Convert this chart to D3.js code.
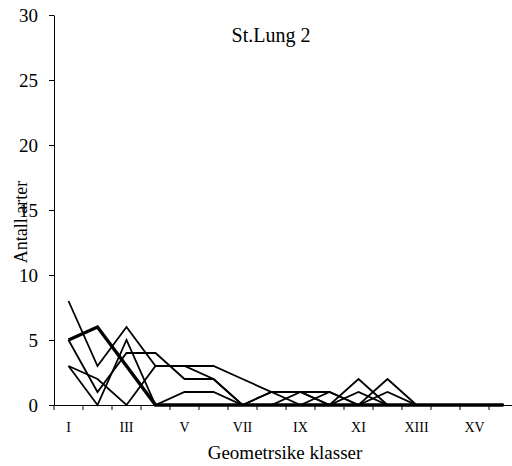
<!DOCTYPE html>
<html><head><meta charset="utf-8">
<script src="https://cdn.jsdelivr.net/npm/d3@7"></script>
<style>body{margin:0;background:#fff}svg{display:block}text{font-family:"Liberation Serif","Times New Roman",serif;fill:#000}</style>
</head><body><svg id="c" width="512" height="466"></svg>
<script>
const categories = ["I","II","III","IV","V","VI","VII","VIII","IX","X","XI","XII","XIII","XIV","XV","XVI"];
const tickLabels = ["I","III","V","VII","IX","XI","XIII","XV"];
const yTicks = [0,5,10,15,20,25,30];
const s1 = [8,3,6,3,3,3,2,1,1,1,0,1,0,0,0,0];
const s2 = [5,6,3,0,0,0,0,0,0,0,0,0,0,0,0,0];
const s3 = [5,1,4,4,2,2,0,1,0,1,0,2,0,0,0,0];
const s4 = [3,0,5,0,1,1,0,0,1,0,2,0,0,0,0,0];
const s5 = [3,2,0,3,3,2,0,1,1,0,1,0,0,0,0,0];
const series = [
  {name:"s1", values:s1, w:1.8},
  {name:"s3", values:s3, w:1.8},
  {name:"s4", values:s4, w:1.8},
  {name:"s5", values:s5, w:1.8},
  {name:"s2", values:s2, w:3.4}
];
(function(){
const svg = d3.select("#c");
const mLeft=54, mRight=518, mTop=15, mBottom=405;
const x = d3.scaleBand().domain(categories).range([mLeft,mRight]);
const y = d3.scaleLinear().domain([0,30]).range([mBottom,mTop]);
const serif = "Liberation Serif";

const ya = svg.append("g").attr("transform",`translate(${mLeft},0)`)
  .call(d3.axisLeft(y).tickValues(yTicks).tickSize(5).tickSizeOuter(0).tickPadding(11));
ya.attr("font-family",serif).attr("font-size",19);
ya.selectAll("text").style("font-size","19px").style("font-family",serif);
ya.selectAll("line,path").attr("stroke","#000");

const xa = svg.append("g").attr("transform",`translate(0,${mBottom})`)
  .call(d3.axisBottom(x).tickSize(0).tickSizeOuter(0).tickPadding(17)
    .tickFormat(d=>tickLabels.includes(d)?d:""));
xa.attr("font-family",serif).attr("font-size",14);
xa.selectAll("text").style("font-size","14px").style("font-family",serif);
xa.select("path").attr("stroke","#000");
xa.selectAll(".bt").data(categories).enter().append("line").attr("class","bt")
  .attr("x1",d=>x(d)).attr("x2",d=>x(d)).attr("y1",0).attr("y2",5).attr("stroke","#000");

const line = d3.line().x((d,i)=>x(categories[i])+x.bandwidth()/2).y(d=>y(d));
svg.append("g").selectAll("path").data(series).enter().append("path")
  .attr("d",d=>line(d.values)).attr("fill","none").attr("stroke","#000")
  .attr("stroke-width",d=>d.w).attr("stroke-linejoin","miter");

svg.append("text").attr("x",271).attr("y",42).attr("text-anchor","middle")
  .style("font-size","20px").text("St.Lung 2");
svg.append("text").attr("x",285).attr("y",459).attr("text-anchor","middle")
  .style("font-size","19px").text("Geometrsike klasser");
svg.append("text").attr("transform","translate(27,222) rotate(-90)").attr("text-anchor","middle")
  .style("font-size","18px").text("Antall arter");
})();
</script></body></html>
